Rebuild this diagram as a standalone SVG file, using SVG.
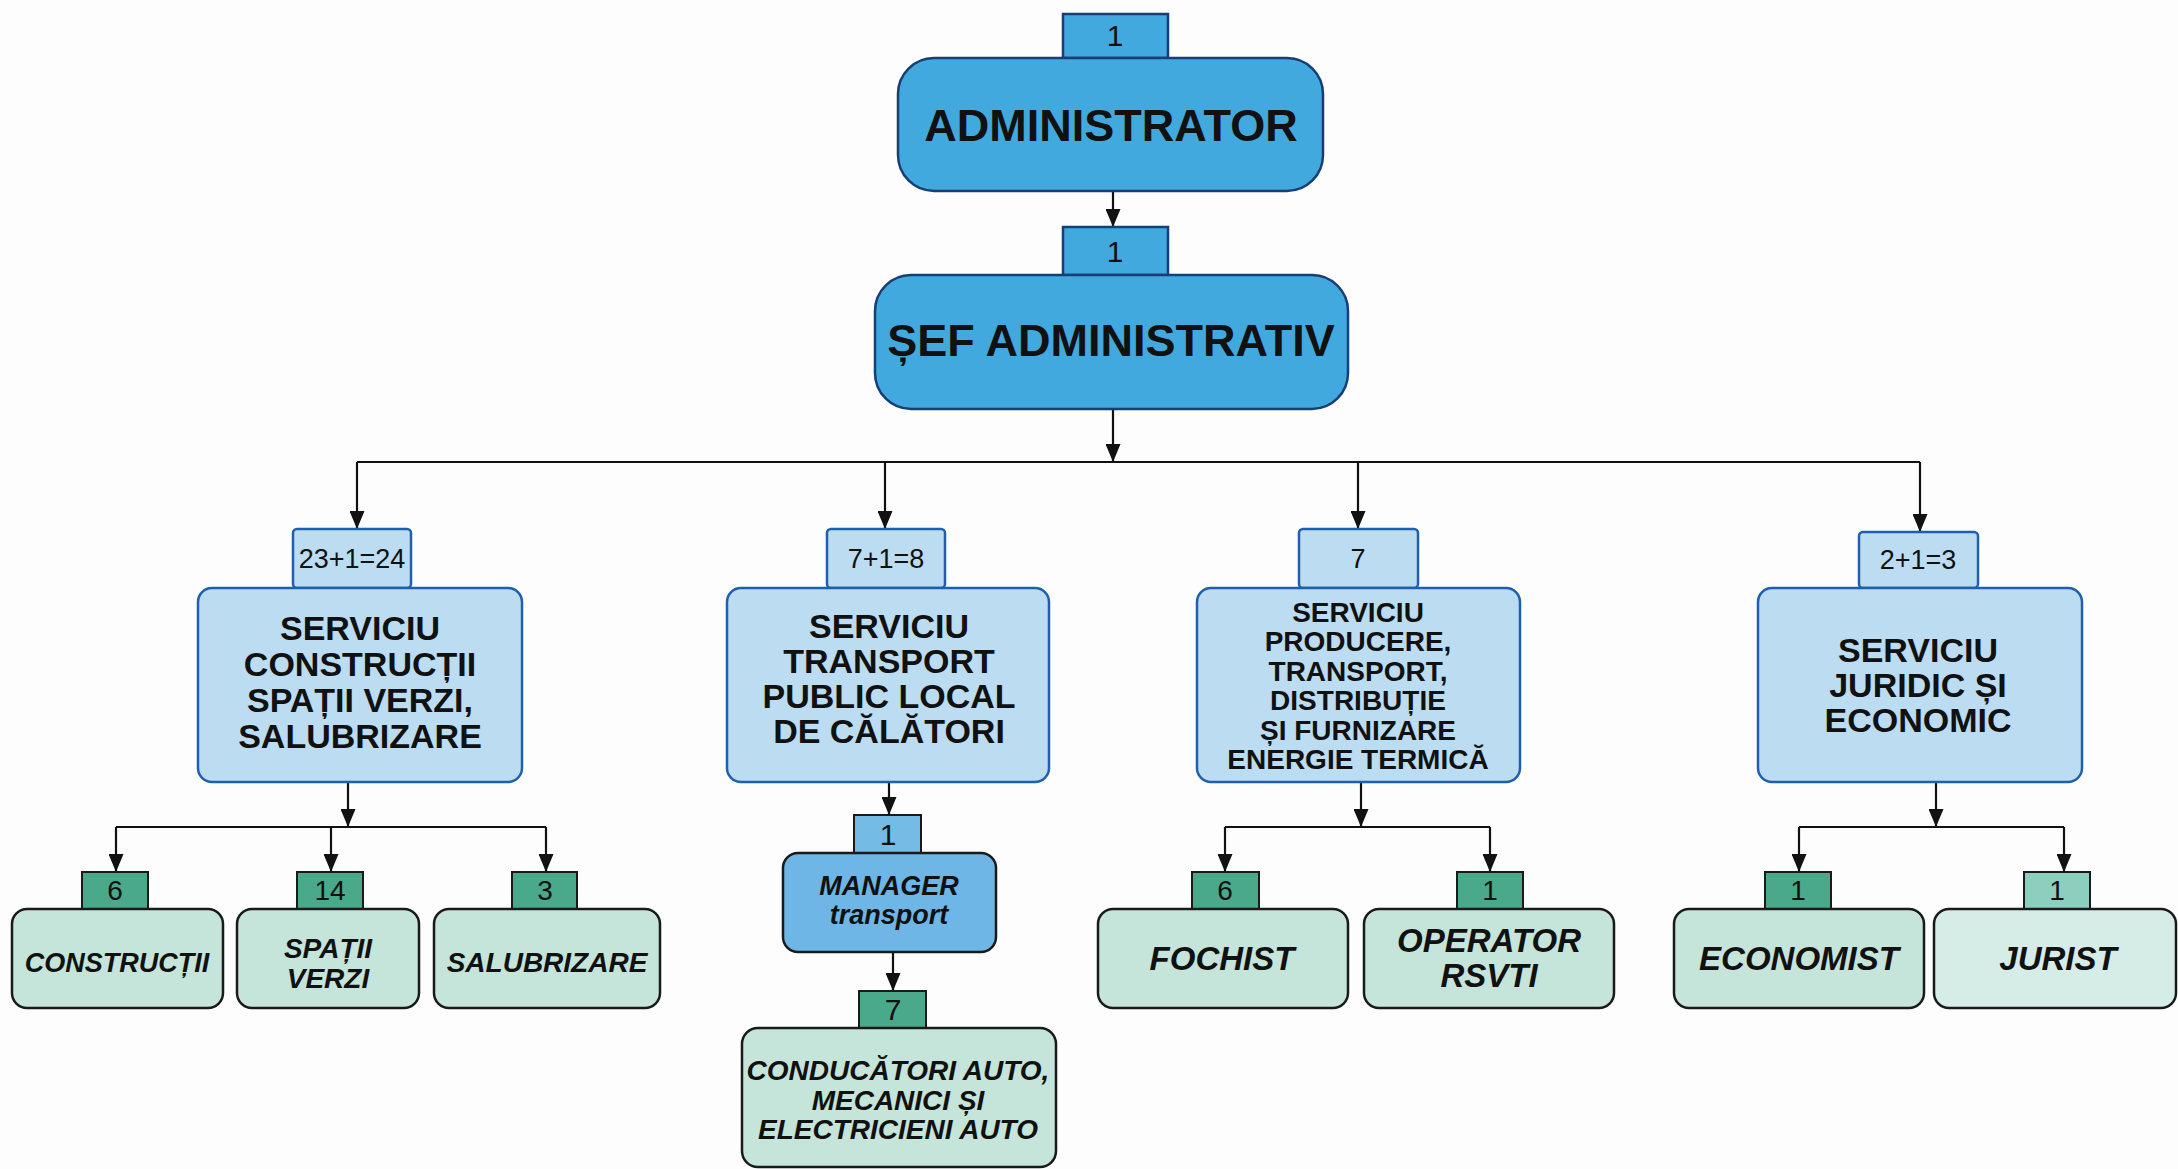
<svg xmlns="http://www.w3.org/2000/svg" width="2178" height="1169" viewBox="0 0 2178 1169">
<defs>
<marker id="arr" markerUnits="userSpaceOnUse" viewBox="0 0 18 15" markerWidth="18" markerHeight="15" refX="18" refY="7.5" orient="auto">
<path d="M0,0 L18,7.5 L0,15 z" fill="#111"/>
</marker>
</defs>
<style>
.bg{fill:#fdfdfd}
.top{fill:#42a9df;stroke:#173e75;stroke-width:2.5}
.svc{fill:#bcdcf2;stroke:#1f5fb0;stroke-width:2.5}
.mgr{fill:#6db6e6;stroke:#1a1a1a;stroke-width:2.5}
.leaf{fill:#c5e4da;stroke:#1a1a1a;stroke-width:2.5}
.leaf2{fill:#d6ede7;stroke:#1a1a1a;stroke-width:2.5}
.gb{fill:#4aa98a;stroke:#1a1a1a;stroke-width:2}
.gb2{fill:#8ccfbe;stroke:#1a1a1a;stroke-width:2}
.bb{fill:#74bce6;stroke:#1a1a1a;stroke-width:2}
.t{font-family:"Liberation Sans",Arial,sans-serif;fill:#111;text-anchor:middle}
.b{font-weight:bold}
.bi{font-weight:bold;font-style:italic}
.n{font-size:27px}
.m{font-size:28px}
.c{fill:none;stroke:#111;stroke-width:2.2}
</style>
<rect class="bg" x="0" y="0" width="2178" height="1169"/>

<g id="connectors">
<path class="c" d="M1113,191 V227" marker-end="url(#arr)"/>
<path class="c" d="M1113,409 V462" marker-end="url(#arr)"/>
<path class="c" d="M357,462 H1920"/>
<path class="c" d="M357,462 V529" marker-end="url(#arr)"/>
<path class="c" d="M885,462 V529" marker-end="url(#arr)"/>
<path class="c" d="M1358,462 V529" marker-end="url(#arr)"/>
<path class="c" d="M1920,462 V532" marker-end="url(#arr)"/>
<path class="c" d="M348,782 V827" marker-end="url(#arr)"/>
<path class="c" d="M116,827 H546"/>
<path class="c" d="M116,827 V872" marker-end="url(#arr)"/>
<path class="c" d="M331,827 V872" marker-end="url(#arr)"/>
<path class="c" d="M546,827 V872" marker-end="url(#arr)"/>
<path class="c" d="M889,782 V815" marker-end="url(#arr)"/>
<path class="c" d="M893,952 V991" marker-end="url(#arr)"/>
<path class="c" d="M1361,782 V827" marker-end="url(#arr)"/>
<path class="c" d="M1225,827 H1490"/>
<path class="c" d="M1225,827 V872" marker-end="url(#arr)"/>
<path class="c" d="M1490,827 V872" marker-end="url(#arr)"/>
<path class="c" d="M1936,782 V827" marker-end="url(#arr)"/>
<path class="c" d="M1799,827 H2064"/>
<path class="c" d="M1799,827 V872" marker-end="url(#arr)"/>
<path class="c" d="M2064,827 V872" marker-end="url(#arr)"/>
</g>

<g id="administrator">
<rect class="top" x="1063" y="14" width="105" height="44"/>
<text class="t" x="1115" y="46" font-size="30">1</text>
<rect class="top" x="898" y="58" width="425" height="133" rx="36"/>
<text class="t b" x="1111" y="141" font-size="45">ADMINISTRATOR</text>
</g>

<g id="sef-administrativ">
<rect class="top" x="1063" y="227" width="105" height="48"/>
<text class="t" x="1115" y="262" font-size="30">1</text>
<rect class="top" x="875" y="275" width="473" height="134" rx="36"/>
<text class="t b" x="1111" y="356" font-size="45">ȘEF ADMINISTRATIV</text>
</g>

<g id="serviciu-constructii">
<rect class="svc" x="293" y="529" width="118" height="59" rx="4"/>
<text class="t n" x="352" y="568">23+1=24</text>
<rect class="svc" x="198" y="588" width="324" height="194" rx="14"/>
<text class="t b" x="360" y="640" font-size="34">SERVICIU</text>
<text class="t b" x="360" y="676" font-size="34">CONSTRUCȚII</text>
<text class="t b" x="360" y="712" font-size="34">SPAȚII VERZI,</text>
<text class="t b" x="360" y="748" font-size="34">SALUBRIZARE</text>
</g>

<g id="serviciu-transport">
<rect class="svc" x="827" y="529" width="118" height="59" rx="4"/>
<text class="t n" x="886" y="568">7+1=8</text>
<rect class="svc" x="727" y="588" width="322" height="194" rx="14"/>
<text class="t b" x="889" y="638" font-size="34">SERVICIU</text>
<text class="t b" x="889" y="673" font-size="34">TRANSPORT</text>
<text class="t b" x="889" y="708" font-size="34">PUBLIC LOCAL</text>
<text class="t b" x="889" y="743" font-size="34">DE CĂLĂTORI</text>
</g>

<g id="serviciu-energie">
<rect class="svc" x="1299" y="529" width="119" height="59" rx="4"/>
<text class="t n" x="1358" y="568">7</text>
<rect class="svc" x="1197" y="588" width="323" height="194" rx="14"/>
<text class="t b" x="1358" y="622" font-size="28">SERVICIU</text>
<text class="t b" x="1358" y="651" font-size="28">PRODUCERE,</text>
<text class="t b" x="1358" y="681" font-size="28">TRANSPORT,</text>
<text class="t b" x="1358" y="710" font-size="28">DISTRIBUȚIE</text>
<text class="t b" x="1358" y="740" font-size="28">ȘI FURNIZARE</text>
<text class="t b" x="1358" y="769" font-size="28">ENERGIE TERMICĂ</text>
</g>

<g id="serviciu-juridic">
<rect class="svc" x="1859" y="532" width="119" height="56" rx="4"/>
<text class="t n" x="1918" y="569">2+1=3</text>
<rect class="svc" x="1758" y="588" width="324" height="194" rx="14"/>
<text class="t b" x="1918" y="662" font-size="34">SERVICIU</text>
<text class="t b" x="1918" y="697" font-size="34">JURIDIC ȘI</text>
<text class="t b" x="1918" y="732" font-size="34">ECONOMIC</text>
</g>

<g id="constructii">
<rect class="gb" x="82" y="872" width="66" height="37"/>
<text class="t m" x="115" y="900">6</text>
<rect class="leaf" x="12" y="909" width="211" height="99" rx="15"/>
<text class="t bi" x="117" y="972" font-size="27">CONSTRUCȚII</text>
</g>

<g id="spatii-verzi">
<rect class="gb" x="297" y="872" width="66" height="37"/>
<text class="t m" x="330" y="900">14</text>
<rect class="leaf" x="237" y="909" width="182" height="99" rx="15"/>
<text class="t bi" x="328" y="958" font-size="28">SPAȚII</text>
<text class="t bi" x="328" y="988" font-size="28">VERZI</text>
</g>

<g id="salubrizare">
<rect class="gb" x="512" y="872" width="65" height="37"/>
<text class="t m" x="545" y="900">3</text>
<rect class="leaf" x="434" y="909" width="226" height="99" rx="15"/>
<text class="t bi" x="547" y="972" font-size="28">SALUBRIZARE</text>
</g>

<g id="manager-transport">
<rect class="bb" x="854" y="815" width="67" height="38"/>
<text class="t" x="888" y="845" font-size="30">1</text>
<rect class="mgr" x="783" y="853" width="213" height="99" rx="15"/>
<text class="t bi" x="889" y="895" font-size="27">MANAGER</text>
<text class="t bi" x="889" y="924" font-size="27">transport</text>
</g>

<g id="conducatori-auto">
<rect class="gb" x="859" y="991" width="67" height="37"/>
<text class="t" x="893" y="1020" font-size="30">7</text>
<rect class="leaf" x="742" y="1028" width="314" height="139" rx="16"/>
<text class="t bi" x="898" y="1080" font-size="28">CONDUCĂTORI AUTO,</text>
<text class="t bi" x="898" y="1110" font-size="28">MECANICI ȘI</text>
<text class="t bi" x="898" y="1139" font-size="28">ELECTRICIENI AUTO</text>
</g>

<g id="fochist">
<rect class="gb" x="1192" y="872" width="67" height="37"/>
<text class="t m" x="1225" y="900">6</text>
<rect class="leaf" x="1098" y="909" width="250" height="99" rx="15"/>
<text class="t bi" x="1222" y="970" font-size="33">FOCHIST</text>
</g>

<g id="operator-rsvti">
<rect class="gb" x="1457" y="872" width="66" height="37"/>
<text class="t m" x="1490" y="900">1</text>
<rect class="leaf" x="1364" y="909" width="250" height="99" rx="15"/>
<text class="t bi" x="1489" y="952" font-size="33">OPERATOR</text>
<text class="t bi" x="1489" y="987" font-size="33">RSVTI</text>
</g>

<g id="economist">
<rect class="gb" x="1765" y="872" width="66" height="37"/>
<text class="t m" x="1798" y="900">1</text>
<rect class="leaf" x="1674" y="909" width="250" height="99" rx="15"/>
<text class="t bi" x="1799" y="970" font-size="33">ECONOMIST</text>
</g>

<g id="jurist">
<rect class="gb2" x="2024" y="872" width="66" height="37"/>
<text class="t m" x="2057" y="900">1</text>
<rect class="leaf2" x="1934" y="909" width="242" height="99" rx="15"/>
<text class="t bi" x="2058" y="970" font-size="33">JURIST</text>
</g>
</svg>
